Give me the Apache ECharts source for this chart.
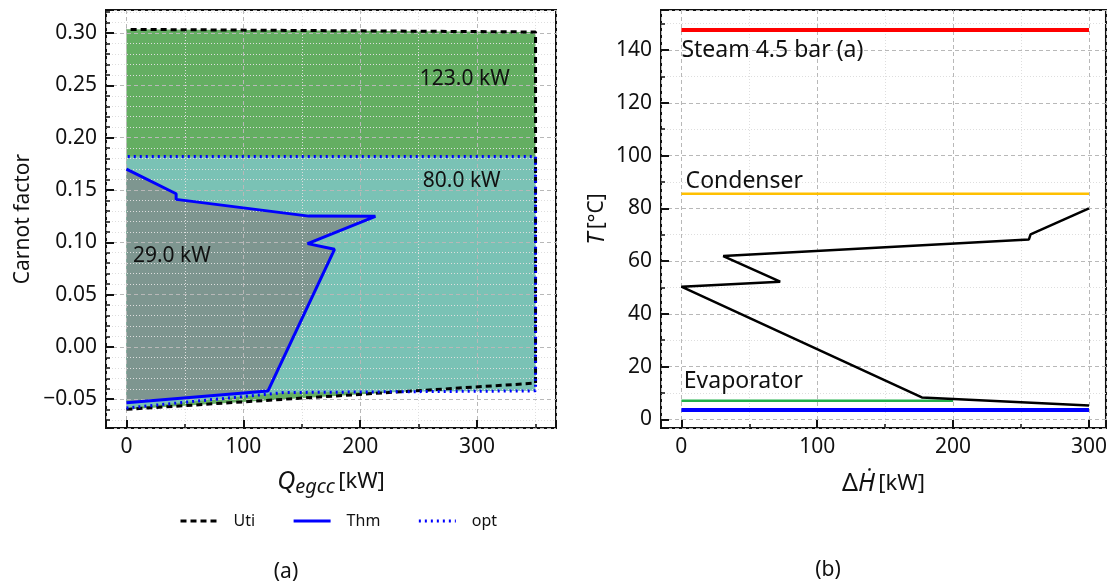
<!DOCTYPE html>
<html>
<head>
<meta charset="utf-8">
<script src="https://cdn.jsdelivr.net/npm/echarts@6.0.0/dist/echarts.min.js"></script>
<style>
  html, body { margin: 0; padding: 0; background: #fff; }
  #chart { width: 1110px; height: 585px; }
</style>
</head>
<body>
<div id="chart"></div>
<script>
// (a) composite curves, [Q kW, Carnot factor]
const utiLine = [[0, -0.0597], [350, -0.0346], [350, 0.301], [0, 0.3035]]
const thmLine = [[0, 0.170], [42.5, 0.1464], [42.5, 0.141], [156, 0.125], [213, 0.1248],
  [155, 0.0987], [178, 0.0933], [121, -0.0422], [0, -0.0533]]
const optLine = [[0, -0.0584], [135, -0.0436], [350, -0.042], [350, 0.182], [0, 0.182]]
const areaLabelPos = [[251, 0.2562], [253.5, 0.1584], [5.5, 0.087]]
const areaLabelText = ['123.0 kW', '80.0 kW', '29.0 kW']

// (b) temperature vs enthalpy, [dH kW, T degC]
const steamLine = [[0, 147.6], [300, 147.6]]
const condenserLine = [[0, 85.5], [300, 85.5]]
const evaporatorLine = [[0, 7.05], [200, 7.05]]
const coldLine = [[0, 3.5], [300, 3.5]]
const processLine = [[300, 80], [257, 70.1], [255.8, 68.2], [30.8, 61.9], [72.7, 52.2],
  [0, 50.3], [177, 8.3], [300, 5.2]]
const utilLabelPos = [[0, 140], [3.1, 90.1], [1.8, 14.25]]
const utilLabelText = ['Steam 4.5 bar (a)', 'Condenser', 'Evaporator']

const font = 'Noto Sans'
const ink = '#111111'

function valueAxis(gridIndex, min, max, step, minorSplit, fmt, extra) {
  return Object.assign({
    type: 'value',
    gridIndex: gridIndex,
    min: min,
    max: max,
    minInterval: step,
    maxInterval: step,
    axisLine: { show: false, onZero: false },
    axisTick: { show: true, inside: true, length: 8, lineStyle: { color: ink, width: 2 } },
    minorTick: { show: true, splitNumber: minorSplit, length: 4, lineStyle: { color: ink, width: 1.5 } },
    splitLine: { show: true, lineStyle: { color: '#b8b8b8', type: [4, 3], width: 1 } },
    minorSplitLine: { show: true, lineStyle: { color: '#dedede', type: [1, 2], width: 1 } },
    axisLabel: {
      color: ink, fontFamily: font, fontSize: 21, margin: 9,
      showMinLabel: false, showMaxLabel: false, formatter: fmt
    },
    nameLocation: 'middle',
    nameTextStyle: { color: ink, fontFamily: font, fontSize: 21 }
  }, extra)
}

function polygon(gi, pts, color) {
  return {
    type: 'custom', xAxisIndex: gi, yAxisIndex: gi, z: -1, silent: true,
    data: pts,
    renderItem: function (params, api) {
      if (params.dataIndex !== 0) return
      return {
        type: 'polygon',
        shape: { points: pts.map(p => api.coord(p)) },
        style: { fill: color }
      }
    }
  }
}

function line(gi, name, pts, color, width, type) {
  return {
    type: 'line', name: name, xAxisIndex: gi, yAxisIndex: gi, data: pts,
    symbol: 'none', lineStyle: { color: color, width: width, type: type || 'solid' },
    itemStyle: { color: color }
  }
}

function textMarks(gi, pts, texts, size) {
  return {
    type: 'scatter', xAxisIndex: gi, yAxisIndex: gi, symbolSize: 0, silent: true,
    itemStyle: { opacity: 1 },
    data: pts.map((p, i) => ({ value: p, name: texts[i] })),
    label: {
      show: true, position: 'right', distance: 0, formatter: '{b}',
      color: ink, opacity: 1, fontFamily: font, fontSize: size
    }
  }
}

function fix2(v) {
  if (Math.abs(v) < 1e-9) return '0.00'
  return (v < 0 ? '\u2212' : '') + Math.abs(v).toFixed(2)
}

const myChart = echarts.init(document.getElementById('chart'))
myChart.setOption({
  animation: false,
  backgroundColor: '#fff',
  grid: [
    { left: 106, top: 10, width: 450, height: 418, show: true, borderColor: ink, borderWidth: 2 },
    { left: 661, top: 10, width: 447, height: 418, show: true, borderColor: ink, borderWidth: 2 }
  ],
  xAxis: [
    valueAxis(0, -17.5, 367.5, 100, 2, null, {
      name: '{q|Q}{s|egcc} {n|[kW]}', nameGap: 39,
      nameTextStyle: {
        rich: {
          q: { fontFamily: font, fontSize: 25, fontStyle: 'italic', color: ink },
          s: { fontFamily: font, fontSize: 20, fontStyle: 'italic', color: ink, padding: [10, 0, 0, 0] },
          n: { fontFamily: font, fontSize: 22, color: ink }
        }
      }
    }),
    valueAxis(1, -15, 312.5, 100, 2, null, {
      name: '{d|\u0394}{h|\u1E22} {n|[kW]}', nameGap: 43,
      nameTextStyle: {
        rich: {
          d: { fontFamily: font, fontSize: 25, color: ink },
          h: { fontFamily: font, fontSize: 25, fontStyle: 'italic', color: ink },
          n: { fontFamily: font, fontSize: 22, color: ink }
        }
      }
    })
  ],
  yAxis: [
    valueAxis(0, -0.0775, 0.322, 0.05, 5, fix2, { name: 'Carnot factor', nameGap: 72 }),
    valueAxis(1, -3.3, 155.2, 20, 2, null, {
      name: '{t|T} {n|[\u00B0C]}', nameGap: 52,
      nameTextStyle: {
        rich: {
          t: { fontFamily: font, fontSize: 24, fontStyle: 'italic', color: ink },
          n: { fontFamily: font, fontSize: 21, color: ink }
        }
      }
    })
  ],
  legend: {
    data: ['Uti', 'Thm', 'opt'],
    left: 174, top: 508,
    itemWidth: 37, itemHeight: 14, itemGap: 37,
    itemStyle: { opacity: 0 },
    lineStyle: { width: 3 },
    textStyle: { fontFamily: font, fontSize: 16, color: ink, padding: [0, 0, 0, 11] }
  },
  graphic: [
    { type: 'text', x: 286, y: 572, style: { text: '(a)', fontFamily: font, fontSize: 21, fill: ink, align: 'center', verticalAlign: 'middle' } },
    { type: 'text', x: 828, y: 570, style: { text: '(b)', fontFamily: font, fontSize: 21, fill: ink, align: 'center', verticalAlign: 'middle' } }
  ],
  series: [
    polygon(0, utiLine, '#64ae62'),
    polygon(0, optLine, '#7ac2b5'),
    polygon(0, thmLine, '#7e9690'),
    line(0, 'Uti', utiLine, '#000000', 3, [6, 4]),
    line(0, 'Thm', thmLine, '#0000ff', 3),
    line(0, 'opt', optLine, '#0000ff', 3, [2, 4]),
    textMarks(0, areaLabelPos, areaLabelText, 21),

    line(1, 'steam', steamLine, '#ff0000', 4),
    line(1, 'condenser', condenserLine, '#ffc000', 2.5),
    line(1, 'evaporator', evaporatorLine, '#22b14c', 2.5),
    line(1, 'cold', coldLine, '#0000ff', 4),
    line(1, 'process', processLine, '#000000', 2.5),
    textMarks(1, utilLabelPos, utilLabelText, 23)
  ]
})
</script>
</body>
</html>
